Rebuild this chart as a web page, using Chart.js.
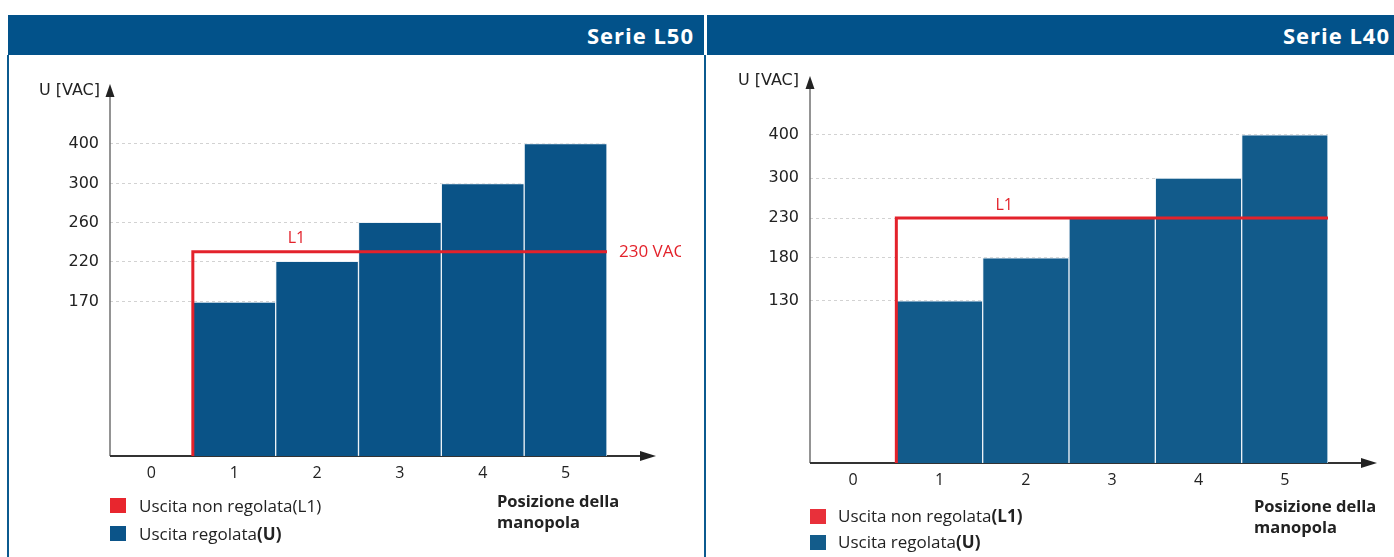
<!DOCTYPE html>
<html><head><meta charset="utf-8">
<script src="https://cdn.jsdelivr.net/npm/chart.js@4.4.1/dist/chart.umd.min.js"></script>
<style>
html,body{margin:0;padding:0;background:#fff;}
body{width:1394px;height:557px;position:relative;overflow:hidden;font-family:'Open Sans',sans-serif;color:#222;}
.hdr{position:absolute;top:15px;height:40px;background:#02528a;color:#fff;font-weight:700;font-size:22px;letter-spacing:1px;line-height:41px;text-align:right;box-sizing:border-box;}
.vline{position:absolute;top:55px;height:502px;width:2px;background:#0b5a8f;}
.cv{position:absolute;top:55px;height:502px;}
.ulab{position:absolute;font-family:'DejaVu Sans',sans-serif;font-size:16px;color:#222;white-space:pre;text-align:right;width:100px;line-height:20px;}
.leg{position:absolute;font-size:17px;line-height:22px;color:#222;white-space:nowrap;}
.sw{position:absolute;width:16px;height:15px;}
.pos{position:absolute;font-weight:700;font-size:16.5px;line-height:21px;color:#222;white-space:nowrap;}
</style>
</head>
<body>
<div class="hdr" style="left:8px;width:696px;padding-right:10px;">Serie L50</div>
<div class="hdr" style="left:707px;width:687px;padding-right:4px;">Serie L40</div>
<div class="vline" style="left:7px;"></div>
<div class="vline" style="left:704px;"></div>

<div class="cv" style="left:10px;width:690px;"><canvas id="cL50" width="690" height="502"></canvas></div>
<div class="cv" style="left:708px;width:686px;"><canvas id="cL40" width="686" height="502"></canvas></div>

<div class="ulab" style="left:0px;top:80px;">U [VAC]</div>
<div class="ulab" style="left:699px;top:70px;">U [VAC]</div>

<div class="sw" style="left:110px;top:498px;background:#e8262e;"></div>
<div class="leg" style="left:139px;top:495px;">Uscita non regolata(L1)</div>
<div class="sw" style="left:110px;top:526px;background:#0b5489;"></div>
<div class="leg" style="left:139px;top:523px;">Uscita regolata<b>(U)</b></div>
<div class="pos" style="left:497px;top:490px;">Posizione della<br>manopola</div>

<div class="sw" style="left:810px;top:509px;background:#e8303a;"></div>
<div class="leg" style="left:838px;top:505px;">Uscita non regolata<b>(L1)</b></div>
<div class="sw" style="left:810px;top:535px;background:#135c8b;"></div>
<div class="leg" style="left:838px;top:531px;">Uscita regolata<b>(U)</b></div>
<div class="pos" style="left:1254px;top:495px;">Posizione della<br>manopola</div>

<script>
// ---- data ----
const categories = ['0', '1', '2', '3', '4', '5'];
const l50Values = [null, 170, 220, 260, 300, 400];
const l50Ticks = [170, 220, 260, 300, 400];
const l50L1 = 230;
const l40Values = [null, 130, 180, 230, 300, 400];
const l40Ticks = [130, 180, 230, 300, 400];
const l40L1 = 230;

// ---- schematic (non-linear) axis layout: where each tick sits, as a fraction of the axis height ----
const L50_TICK_FRACTIONS = [0.414, 0.523, 0.628, 0.7325, 0.840];
const L40_TICK_FRACTIONS = [0.419, 0.530, 0.633, 0.736, 0.848];
const AXIS_TOP_VALUE = 460;

const AXIS_KNOTS = {
  cL50: { ticks: l50Ticks, fr: L50_TICK_FRACTIONS, top: AXIS_TOP_VALUE },
  cL40: { ticks: l40Ticks, fr: L40_TICK_FRACTIONS, top: AXIS_TOP_VALUE }
};

class SchematicScale extends Chart.LinearScale {
  _knots() {
    const k = AXIS_KNOTS[this.chart.canvas.id];
    return { vs: [0, ...k.ticks, k.top], fs: [0, ...k.fr, 1] };
  }
  buildTicks() {
    return AXIS_KNOTS[this.chart.canvas.id].ticks.map(v => ({ value: v }));
  }
  getPixelForValue(v) {
    const { vs, fs } = this._knots();
    let f;
    if (v <= vs[0]) f = fs[0];
    else if (v >= vs[vs.length - 1]) f = fs[fs.length - 1];
    else {
      for (let i = 1; i < vs.length; i++) {
        if (v <= vs[i]) { f = fs[i - 1] + (fs[i] - fs[i - 1]) * (v - vs[i - 1]) / (vs[i] - vs[i - 1]); break; }
      }
    }
    return this.getPixelForDecimal(f);
  }
  getValueForPixel(p) {
    const { vs, fs } = this._knots();
    const f = this.getDecimalForPixel(p);
    for (let i = 1; i < fs.length; i++) {
      if (f <= fs[i]) return vs[i - 1] + (vs[i] - vs[i - 1]) * (f - fs[i - 1]) / (fs[i] - fs[i - 1]);
    }
    return vs[vs.length - 1];
  }
}
SchematicScale.id = 'schematic';
SchematicScale.defaults = {};
Chart.register(SchematicScale);

const RED = '#e3222b';

const decorPlugin = {
  id: 'decor',
  beforeDatasetsDraw(chart, args, opts) {
    const { ctx, chartArea: a } = chart;
    ctx.save();
    // y axis with arrow
    ctx.strokeStyle = '#707070';
    ctx.lineWidth = 1.5;
    ctx.beginPath(); ctx.moveTo(a.left, a.bottom); ctx.lineTo(a.left, a.top + 8); ctx.stroke();
    ctx.fillStyle = '#222';
    ctx.beginPath(); ctx.moveTo(a.left, a.top); ctx.lineTo(a.left - 4.5, a.top + 13); ctx.lineTo(a.left + 4.5, a.top + 13); ctx.closePath(); ctx.fill();
    // x axis with arrow
    const xEnd = a.right + opts.arrowExtra;
    ctx.strokeStyle = '#333';
    ctx.lineWidth = 2;
    ctx.beginPath(); ctx.moveTo(a.left, a.bottom); ctx.lineTo(xEnd - 10, a.bottom); ctx.stroke();
    ctx.beginPath(); ctx.moveTo(xEnd, a.bottom); ctx.lineTo(xEnd - 16, a.bottom - 5); ctx.lineTo(xEnd - 16, a.bottom + 5); ctx.closePath(); ctx.fill();
    ctx.restore();
  },
  afterDatasetsDraw(chart, args, opts) {
    const { ctx, chartArea: a, scales } = chart;
    const yPix = scales.y.getPixelForValue(opts.l1);
    ctx.save();
    ctx.fillStyle = RED;
    ctx.font = '16px "Open Sans", sans-serif';
    ctx.textAlign = 'center';
    ctx.textBaseline = 'middle';
    ctx.fillText('L1', scales.xl.getPixelForValue(1.75), yPix - 13);
    if (opts.vacLabel) {
      ctx.beginPath(); ctx.rect(0, 0, opts.clipRight, chart.height); ctx.clip();
      ctx.textAlign = 'left';
      ctx.font = '17px "Open Sans", sans-serif';
      ctx.fillText(opts.vacLabel, a.right + 12, yPix);
    }
    ctx.restore();
  }
};

function l1Path(values, l1) {
  const first = values.findIndex(v => v !== null);
  return [
    { x: first - 0.5, y: 0 },
    { x: first - 0.5, y: l1 },
    { x: categories.length - 0.5, y: l1 }
  ];
}

function makeChart(id, values, l1, barColor, pad, vacLabel) {
  return new Chart(document.getElementById(id), {
    type: 'bar',
    data: {
      labels: categories,
      datasets: [
        {
          type: 'line',
          label: 'Uscita non regolata (L1)',
          data: l1Path(values, l1),
          xAxisID: 'xl',
          yAxisID: 'y',
          borderColor: RED,
          borderWidth: 3,
          borderJoinStyle: 'miter',
          pointRadius: 0,
          fill: false,
          tension: 0,
          order: 0
        },
        {
          type: 'bar',
          label: 'Uscita regolata (U)',
          data: values,
          xAxisID: 'x',
          yAxisID: 'y',
          backgroundColor: barColor,
          borderColor: 'rgba(235,241,247,0.95)',
          borderWidth: 1,
          barPercentage: 1,
          categoryPercentage: 1,
          grouped: false,
          order: 1
        }
      ]
    },
    options: {
      responsive: false,
      animation: false,
      events: [],
      layout: { autoPadding: false, padding: pad },
      plugins: {
        legend: { display: false },
        tooltip: { enabled: false },
        decor: { arrowExtra: 49, l1: l1, vacLabel: vacLabel, clipRight: 671 }
      },
      scales: {
        x: {
          type: 'category',
          offset: true,
          grid: { display: false, drawTicks: false },
          border: { display: false },
          ticks: { color: '#222', font: { family: 'Open Sans', size: 16 }, padding: 8, maxRotation: 0 },
          afterFit: s => { s.height = 30; }
        },
        xl: {
          type: 'linear',
          display: false,
          offset: false,
          grid: { offset: false },
          min: -0.5,
          max: categories.length - 0.5
        },
        y: {
          type: 'schematic',
          position: 'left',
          min: 0,
          max: AXIS_TOP_VALUE,
          grid: { color: '#d2d2d2', lineWidth: 1, drawTicks: false },
          border: { display: false, dash: [3, 3] },
          ticks: { color: '#222', font: { family: 'DejaVu Sans', size: 16 }, padding: 11, callback: v => String(v) },
          afterFit: s => { s.width = 90; }
        }
      }
    },
    plugins: [decorPlugin]
  });
}

makeChart('cL50', l50Values, l50L1, '#0a5387', { left: 10, right: 93, top: 29, bottom: 71 }, '230 VAC');
makeChart('cL40', l40Values, l40L1, '#125b8b', { left: 12, right: 66, top: 21, bottom: 64 }, null);
</script>
</body></html>
